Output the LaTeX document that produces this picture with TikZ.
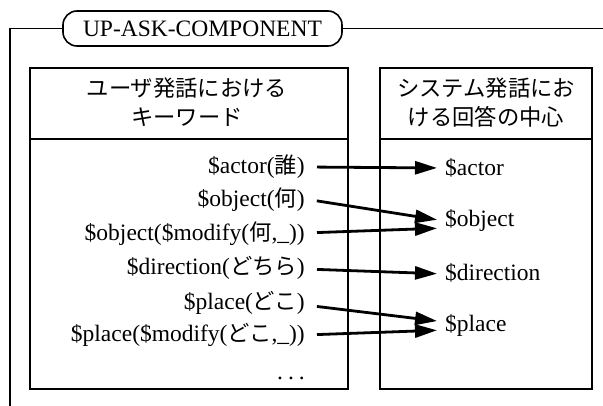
\documentclass[tikz,border=0pt]{standalone}
\usepackage{fontspec}
\setmainfont{Liberation Serif}
\newfontfamily\jpf[Scale=0.95]{Noto Sans CJK JP}
\usetikzlibrary{arrows.meta}
\newcommand\latsz{\fontsize{23.5}{28}\selectfont}
\tikzset{
  frameline/.style={line width=1.8pt},
  boxline/.style={line width=1.5pt},
  titlebox/.style={draw, line width=1.6pt, rounded corners=14pt, minimum width=279pt, minimum height=35pt, inner sep=0pt, font=\latsz},
  hdr/.style={align=center, inner sep=0pt, font=\jpf\fontsize{23.5}{29}\selectfont},
  lt/.style={anchor=east, inner sep=0pt, font=\latsz},
  rt/.style={anchor=west, inner sep=0pt, font=\latsz},
  arr/.style={line width=2.8pt, -{Triangle[length=22pt,width=13pt]}, shorten <=12pt, shorten >=8pt},
}
\begin{document}
\begin{tikzpicture}[x=1pt,y=-1pt]
\useasboundingbox (0,0) rectangle (603,406);
% frame and title
\node[titlebox] (title) at (202.5,28.5) {UP-ASK-COMPONENT};
\coordinate (tl) at (10,28.5);
\coordinate (bl) at (10,406);
\coordinate (tr) at (603,28.5);
\draw[frameline] (title.west) -- (tl) -- (bl);
\draw[frameline] (title.east) -- (tr);
% boxes
\draw[boxline] (30,68) rectangle (348,389);
\draw[boxline] (30,139) -- (348,139);
\draw[boxline] (380,68) rectangle (592,389);
\draw[boxline] (380,139) -- (592,139);
% headers
\node[hdr] (lh) at (187,102.5) {ユーザ発話における\\キーワード};
\node[hdr] (rh) at (486,102.5) {システム発話にお\\ける回答の中心};
% left items
\node[lt] (a1) at (305,167) {\$actor({\jpf 誰})};
\node[lt] (a2) at (305,200) {\$object({\jpf 何})};
\node[lt] (a3) at (305,234) {\$object(\$modify({\jpf 何},\_))};
\node[lt] (a4) at (305,268) {\$direction({\jpf どちら})};
\node[lt] (a5) at (305,303) {\$place({\jpf どこ})};
\node[lt] (a6) at (305,335) {\$place(\$modify({\jpf どこ},\_))};
\node[lt, anchor=base east] (a7) at (305,380) {.\hspace{5pt}.\hspace{5pt}.};
% right items
\node[rt] (b1) at (445,168) {\$actor};
\node[rt] (b2) at (445,220) {\$object};
\node[rt] (b3) at (445,273) {\$direction};
\node[rt] (b4) at (445,325) {\$place};
% arrows
\draw[arr] (a1.east) -- (b1.west);
\draw[arr] ([yshift=1pt]a2.east) -- ([yshift=-1pt]b2.west);
\draw[arr] ([yshift=1pt]a3.east) -- ([yshift=-8pt]b2.west);
\draw[arr] ([yshift=-1pt]a4.east) -- ([yshift=-1pt]b3.west);
\draw[arr] ([yshift=-2pt]a5.east) -- ([yshift=3pt]b4.west);
\draw[arr] (a6.east) -- ([yshift=-5pt]b4.west);
\end{tikzpicture}
\end{document}
